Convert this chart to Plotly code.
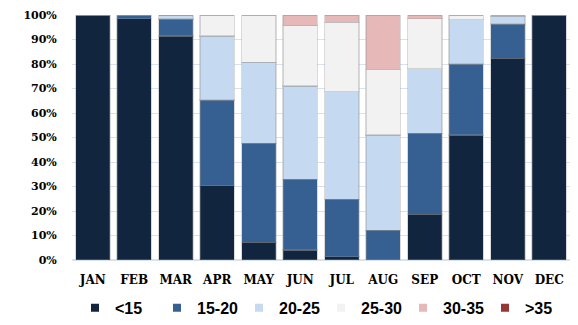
import plotly.graph_objects as go

months = ["JAN", "FEB", "MAR", "APR", "MAY", "JUN", "JUL", "AUG", "SEP", "OCT", "NOV", "DEC"]

bands = ["<15", "15-20", "20-25", "25-30", "30-35", ">35"]

# Share of each month (%) falling in each band
lt15 = [100, 98.5, 91.4, 30.3, 7.2, 4.1, 1.4, 0, 18.7, 51.0, 82.4, 100]
b15_20 = [0, 1.5, 7.0, 35.0, 40.4, 28.8, 23.4, 12.2, 33.0, 29.0, 13.9, 0]
b20_25 = [0, 0, 1.6, 26.1, 33.1, 38.1, 43.9, 38.8, 26.4, 18.1, 3.2, 0]
b25_30 = [0, 0, 0, 8.6, 19.3, 24.6, 28.4, 26.8, 20.4, 1.9, 0.5, 0]
b30_35 = [0, 0, 0, 0, 0, 4.4, 2.9, 22.2, 1.5, 0, 0, 0]
gt35 = [0, 0, 0, 0, 0, 0, 0, 0, 0, 0, 0, 0]

series = [lt15, b15_20, b20_25, b25_30, b30_35, gt35]
colors = ["#12253f", "#366092", "#c5d9f1", "#f2f2f2", "#e6b9b8", "#953735"]

fig = go.Figure()

for name, vals, col in zip(bands, series, colors):
    fig.add_trace(go.Bar(
        x=months, y=vals, name=name, legendgroup=name, showlegend=False,
        marker=dict(color=col, line=dict(color="rgba(150,150,150,0.35)", width=1.2)),
    ))

# Small square swatches for the legend
for name, col in zip(bands, colors):
    fig.add_trace(go.Scatter(
        x=[None], y=[None], mode="markers", name=name, legendgroup=name,
        marker=dict(symbol="square", size=8, color=col),
    ))

tick_font = dict(family="DejaVu Serif", size=11, color="#000000", weight="bold")

fig.update_layout(
    width=578, height=325,
    margin=dict(l=72, r=8, t=15, b=65, autoexpand=False),
    paper_bgcolor="white", plot_bgcolor="white",
    barmode="stack", bargap=0.173,
    showlegend=True,
    legend=dict(
        orientation="h", x=0.5, xanchor="center",
        yref="container", y=0.053, yanchor="middle",
        font=dict(family="Liberation Sans", size=16, color="#000000", weight="bold"),
        itemwidth=30, tracegroupgap=0, entrywidth=37, entrywidthmode="pixels",
    ),
    xaxis=dict(
        showgrid=False, showline=False, zeroline=False, automargin=False,
        tickfont=dict(family="DejaVu Serif", size=12, color="#000000", weight="bold"),
        ticks="outside", ticklen=9, tickcolor="rgba(0,0,0,0)",
    ),
    yaxis=dict(
        range=[0, 100], dtick=10, ticksuffix="%", automargin=False,
        showgrid=True, gridcolor="#d9e2ef", gridwidth=1,
        zeroline=True, zerolinecolor="#d9e2ef", zerolinewidth=1.5,
        showline=False,
        tickfont=tick_font,
        ticks="outside", ticklen=12, tickcolor="rgba(0,0,0,0)",
    ),
)

fig.write_html("out.html")
